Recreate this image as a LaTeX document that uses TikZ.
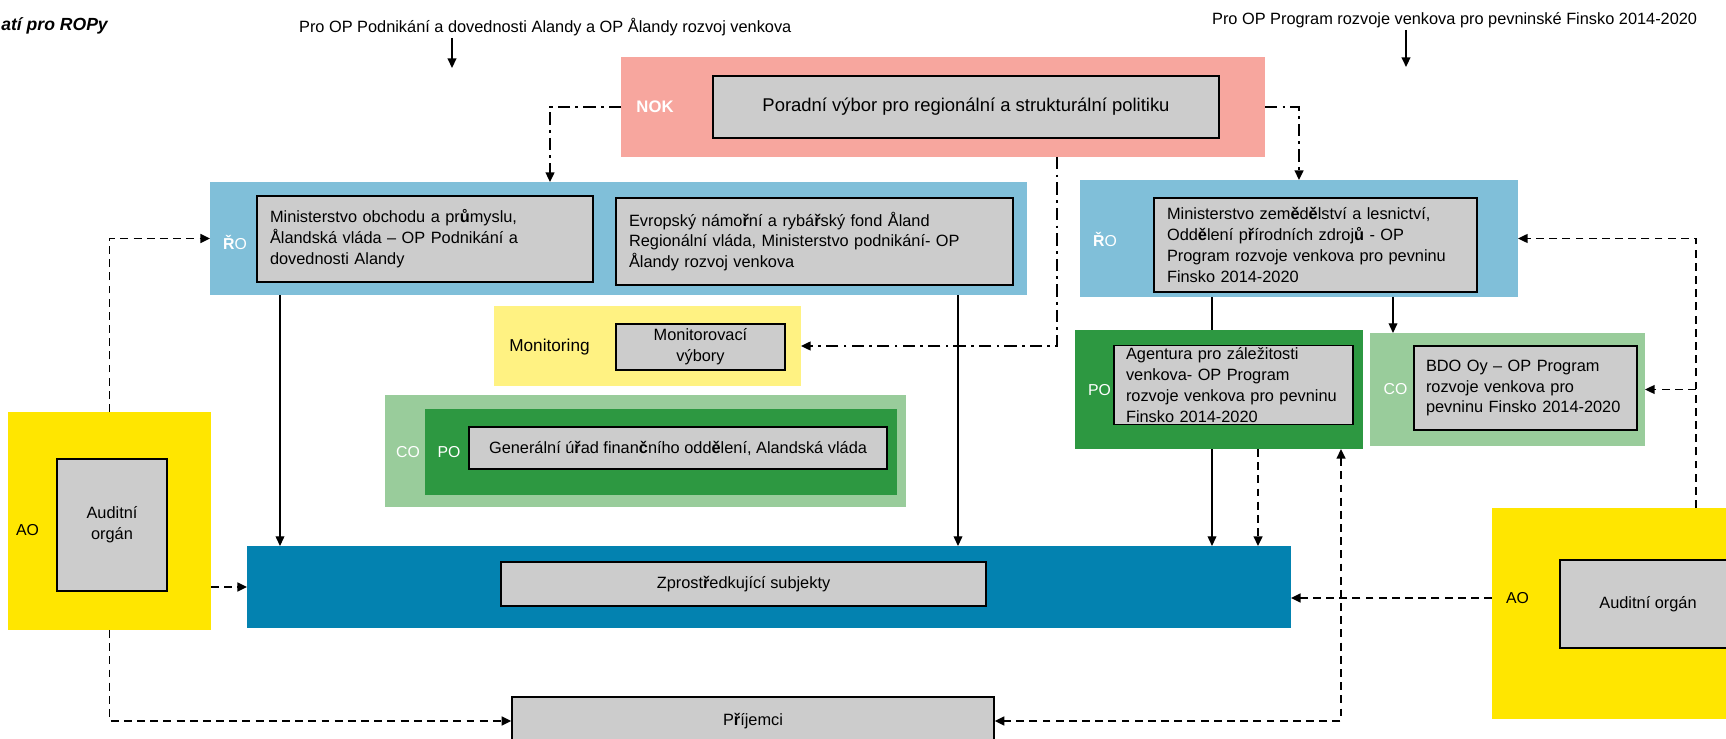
\documentclass[tikz,border=0pt]{standalone}
\usepackage{fontspec}
\setmainfont{Liberation Sans}
\usetikzlibrary{arrows.meta, backgrounds}
\definecolor{colNOK}{RGB}{247,166,158}
\definecolor{colRO}{RGB}{128,191,217}
\definecolor{colGray}{RGB}{204,204,204}
\definecolor{colMon}{RGB}{255,242,130}
\definecolor{colCO}{RGB}{153,204,155}
\definecolor{colPO}{RGB}{45,152,65}
\definecolor{colAO}{RGB}{255,230,0}
\definecolor{colZS}{RGB}{3,130,176}
\newcommand{\boxfont}{\fontsize{9.3}{11.9}\selectfont}
\newcommand{\hb}[1]{\textbf{#1}}

\begin{document}
\begin{tikzpicture}[
    x=0.02cm, y=-0.02cm,
    font=\boxfont,
    >={Triangle[length=5.5pt,width=5pt]},
    panel/.style={inner sep=0pt, outer sep=0pt},
    org/.style={draw=black, line width=0.8pt, fill=colGray, inner xsep=0.26cm, inner ysep=1pt, align=center},
    orgl/.style={org, align=left},
    tag/.style={inner sep=1pt, font=\fontsize{9}{11}\selectfont},
    feed/.style={->, line width=0.6pt},
    audit/.style={->, line width=1.1pt, dash pattern=on 4.5pt off 3pt},
    advise/.style={->, line width=1.1pt, dash pattern=on 7pt off 3pt on 1.5pt off 3pt},
    source/.style={->, line width=0.9pt},
  ]

  \useasboundingbox (0,0) rectangle (1726,739);

  % ---- heading and the two programme notes ----------------------------
  \node[anchor=west, inner sep=0pt, font=\fontsize{10}{12}\selectfont\bfseries\itshape] (title) at (1,26) {atí pro ROPy};
  \node[anchor=west, inner sep=1pt] (noteL) at (297,27) {Pro OP Podnikání a dovednosti Alandy a OP Ålandy rozvoj venkova};
  \node[anchor=west, inner sep=1pt] (noteR) at (1210,20) {Pro OP Program rozvoje venkova pro pevninské Finsko 2014-2020};
  \coordinate (inL) at (452,68);
  \coordinate (inR) at (1406,67);
  \draw[source] (inL |- noteL.south) -- (inL);
  \draw[source] (inR |- noteR.south) -- (inR);

  % ---- NOK ----------------------------------------------------------------
  \node[panel, fill=colNOK, minimum width=12.88cm, minimum height=2cm] (nok) at (943,107) {};
  \node[org, font=\fontsize{10.5}{12.6}\selectfont, minimum width=10.12cm, minimum height=1.24cm] (nokbox) at (966,107)
       {Poradní výbor pro regionální a strukturální politiku};
  \node[tag, text=white, font=\fontsize{9.5}{11}\selectfont\bfseries] (noktag) at (655,107) {NOK};

  % ---- managing authorities (left) --------------------------------------
  \node[panel, fill=colRO, minimum width=16.34cm, minimum height=2.26cm] (roL) at (618.5,238.5) {};
  \node[tag, text=white] (roLtag) at (235,242) {\hb{Ř}O};
  \node[orgl, text width=6.2cm, minimum height=1.72cm] (roLa) at (425,239)
       {Ministerstvo obchodu a pr\hb{ů}myslu,\\ Ålandská vláda – OP Podnikání a\\ dovednosti Alandy};
  \node[orgl, text width=7.42cm, minimum height=1.74cm] (roLb) at (814.5,241.5)
       {Evropský námo\hb{ř}ní a rybá\hb{ř}ský fond Åland\\ Regionální vláda, Ministerstvo podnikání- OP\\ Ålandy rozvoj venkova};

  % ---- managing authority (right) ---------------------------------------
  \node[panel, fill=colRO, minimum width=8.76cm, minimum height=2.34cm] (roR) at (1299,238.5) {};
  \node[tag, text=white] (roRtag) at (1105,239) {\hb{Ř}O};
  \node[orgl, text width=5.94cm, minimum height=1.88cm] (roRa) at (1315.5,245)
       {Ministerstvo zem\hb{ě}d\hb{ě}lství a lesnictví,\\ Odd\hb{ě}lení p\hb{ř}írodních zdroj\hb{ů} - OP\\ Program rozvoje venkova pro pevninu\\ Finsko 2014-2020};

  % ---- monitoring ---------------------------------------------------------
  \node[panel, fill=colMon, minimum width=6.14cm, minimum height=1.6cm] (mon) at (647.5,346) {};
  \node[tag, font=\fontsize{9.8}{12}\selectfont] (montag) at (549.5,347) {Monitoring};
  \node[org, minimum width=3.38cm, minimum height=0.92cm] (monbox) at (700.5,347) {Monitorovací\\ výbory};

  % ---- certifying / paying authority (left) ------------------------------
  \node[panel, fill=colCO, minimum width=10.42cm, minimum height=2.24cm] (coL) at (645.5,451) {};
  \node[tag, text=white] (coLtag) at (408,452) {CO};
  \node[panel, fill=colPO, minimum width=9.44cm, minimum height=1.72cm] (poL) at (661,452) {};
  \node[tag, text=white] (poLtag) at (449,452) {PO};
  \node[org, minimum width=8.36cm, minimum height=0.84cm] (poLbox) at (678,448)
       {Generální ú\hb{ř}ad finan\hb{č}ního odd\hb{ě}lení, Alandská vláda};

  % ---- paying and certifying authority (right) ---------------------------
  \node[panel, fill=colPO, minimum width=5.76cm, minimum height=2.38cm] (poR) at (1219,389.5) {};
  \node[tag, text=white] (poRtag) at (1099.5,390) {PO};
  \node[orgl, inner xsep=0.24cm, text width=4.3cm, minimum height=1.56cm] (poRbox) at (1233.5,385)
       {Agentura pro záležitosti\\ venkova- OP Program\\ rozvoje venkova pro pevninu\\ Finsko 2014-2020};
  \node[panel, fill=colCO, minimum width=5.5cm, minimum height=2.26cm] (coR) at (1507.5,389.5) {};
  \node[tag, text=white] (coRtag) at (1395.5,389) {CO};
  \node[orgl, inner xsep=0.24cm, text width=3.98cm, minimum height=1.68cm] (coRbox) at (1525.5,388)
       {BDO Oy – OP Program\\ rozvoje venkova pro\\ pevninu Finsko 2014-2020};

  % ---- audit authorities --------------------------------------------------
  \node[panel, fill=colAO, minimum width=4.06cm, minimum height=4.36cm] (aoL) at (109.5,521) {};
  \node[tag] (aoLtag) at (27.5,530) {AO};
  \node[org, minimum width=2.2cm, minimum height=2.64cm] (aoLbox) at (112,525) {Auditní\\ orgán};
  \node[panel, fill=colAO, minimum width=4.96cm, minimum height=4.22cm] (aoR) at (1616,613.5) {};
  \node[tag] (aoRtag) at (1517.5,598) {AO};
  \node[org, minimum width=3.52cm, minimum height=1.76cm] (aoRbox) at (1648,604) {Auditní orgán};

  % ---- intermediate bodies and beneficiaries -----------------------------
  \node[panel, fill=colZS, minimum width=20.88cm, minimum height=1.64cm] (zs) at (769,587) {};
  \node[org, minimum width=9.7cm, minimum height=0.88cm] (zsbox) at (743.5,584) {Zprost\hb{ř}edkující subjekty};
  \node[org, minimum width=9.64cm, minimum height=0.96cm] (prij) at (753,721) {P\hb{ř}íjemci};

  % ---- connectors ---------------------------------------------------------
  \coordinate (xA) at (280,0);
  \coordinate (xB) at (958,0);
  \coordinate (xC) at (1212,0);
  \coordinate (xD) at (1258,0);
  \coordinate (xE) at (1341,0);
  \coordinate (xF) at (1393,0);
  \coordinate (xG) at (1696,0);
  \coordinate (bendL) at (550,107);
  \coordinate (bendM) at (1057,346);
  \coordinate (yAR) at (0,598);

  % NOK advises
  \draw[advise] (nok.west) -- (bendL) -- (bendL |- roL.north);
  \draw[advise] (nok.east) -| (roR.north);
  \draw[advise] (bendM |- nok.south) -- (bendM) -- (mon.east);

  % managing -> intermediate
  \draw[feed] (xA |- roL.south) -- (xA |- zs.north);
  \draw[feed] (xB |- roL.south) -- (xB |- zs.north);
  \begin{scope}[on background layer]
    \draw[feed] (xC |- roR.south) -- (xC |- zs.north);
  \end{scope}
  \draw[feed] (xF |- roR.south) -- (xF |- coR.north);

  % audit and payments
  \draw[audit] (xD |- poR.south) -- (xD |- zs.north);
  \draw[audit, <->] (xE |- poR.south) |- (prij.east);
  \draw[audit] (aoL.north) |- (roL.west);
  \draw[audit] (aoL.east |- zs.west) -- (zs.west);
  \draw[audit] (aoL.south) |- (prij.west);
  \draw[audit] (yAR -| aoR.west) -- (yAR -| zs.east);
  \draw[audit] (xG |- aoR.north) |- (roR.east);
  \draw[audit] (xG |- coR.east) -- (coR.east);

\end{tikzpicture}
\end{document}
